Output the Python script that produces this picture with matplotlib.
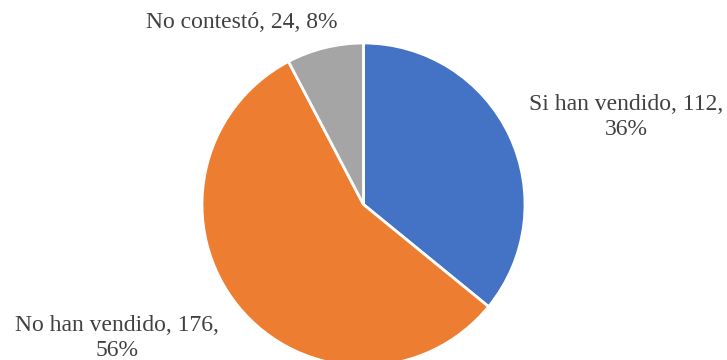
import matplotlib.pyplot as plt

categories = ["Si han vendido", "No han vendido", "No contestó"]
values = [112, 176, 24]
percents = [36, 56, 8]
colors = ["#4472C4", "#ED7D31", "#A5A5A5"]

plt.rcParams["font.family"] = ["Liberation Serif", "DejaVu Serif"]

fig = plt.figure(figsize=(7.27, 3.6), dpi=100)
ax = fig.add_axes([0, 0, 1, 1])

# pie in pixel units
cx, cy, r = 363.5, 360 - 204.5, 161.5
ax.pie(values, colors=colors, startangle=90, counterclock=False,
       center=(cx, cy), radius=r, frame=True,
       wedgeprops=dict(edgecolor="white", linewidth=2))
ax.set_xlim(0, 727)
ax.set_ylim(0, 360)
ax.set_aspect("equal")
ax.axis("off")

labels = [f"{c}, {v},\n{p}%" for c, v, p in zip(categories, values, percents)]
labels[2] = f"{categories[2]}, {values[2]}, {percents[2]}%"
pos = [(626, 360 - 117), (117, 360 - 338), (242, 360 - 22)]
for lab, (x, y) in zip(labels, pos):
    ax.text(x, y, lab, ha="center", va="center", fontsize=17,
            color="#404040", linespacing=1.2)

fig.savefig("out.png", dpi=100)
